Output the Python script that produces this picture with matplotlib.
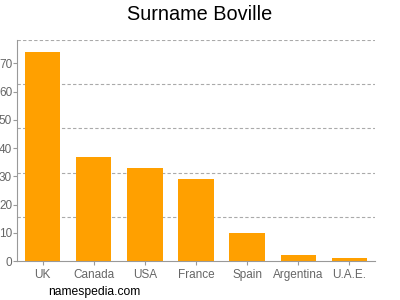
import matplotlib
matplotlib.use('Agg')
import matplotlib.pyplot as plt

plt.rcParams['font.family'] = ['Liberation Sans', 'DejaVu Sans']

# --- data ---
countries = ['UK', 'Canada', 'USA', 'France', 'Spain', 'Argentina', 'U.A.E.']
counts = [74, 37, 33, 29, 10, 2, 1]
y_ticks = [0, 10, 20, 30, 40, 50, 60, 70]
y_max = 78.3

fig = plt.figure(figsize=(4, 3), dpi=100)
ax = fig.add_axes([0.0425, 0.13, 0.895, 0.7367])

ax.bar(range(len(countries)), counts, width=0.69, color='#ffa000', zorder=2)
ax.set_xlim(-0.5, len(countries) - 0.5)
ax.set_ylim(0, y_max)

# dashed grid at fifths of the range
for i in range(1, 6):
    ax.axhline(y_max * i / 5, color='#aaaaaa', linestyle=(0, (3, 2)), linewidth=0.8, zorder=1)

ax.set_yticks(y_ticks)
ax.set_xticks(range(len(countries)))
ax.set_xticklabels(countries)
ax.tick_params(axis='both', colors='#999999', labelcolor='#666666', labelsize=8.5, length=3, width=0.8)
ax.tick_params(axis='y', pad=0.5)
ax.tick_params(axis='x', pad=3)

for side in ['top', 'right']:
    ax.spines[side].set_visible(False)
for side in ['left', 'bottom']:
    ax.spines[side].set_color('#999999')
    ax.spines[side].set_linewidth(0.8)

fig.text(0.5, 0.95, 'Surname Boville', ha='center', va='center', fontsize=14.3, color='#000000')
fig.text(0.12, 0.028, 'namespedia.com', ha='left', va='center', fontsize=8.7, color='#000000')

fig.savefig('out.png', dpi=100)
